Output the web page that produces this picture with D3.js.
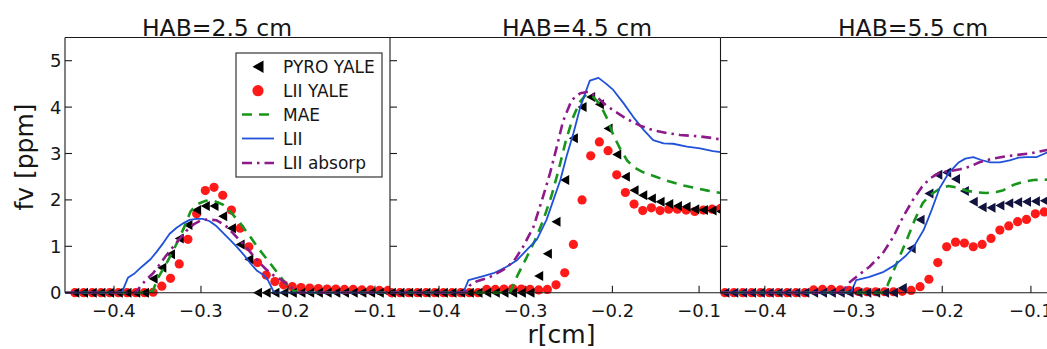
<!DOCTYPE html>
<html>
<head>
<meta charset="utf-8">
<script src="https://cdn.jsdelivr.net/npm/d3@7"></script>
<style>
  body { margin: 0; background: #fff; }
  svg { display: block; }
  text { font-family: "DejaVu Sans", sans-serif; fill: #161616; }
</style>
</head>
<body>
<svg id="chart" width="1047" height="349"></svg>
<script>
// ---- Soot volume fraction profiles, fv [ppm] versus radius r [cm] ----

const panelTitles = ["HAB=2.5 cm", "HAB=4.5 cm", "HAB=5.5 cm"];
const xTicks = [-0.4, -0.3, -0.2, -0.1];
const yTicks = [0, 1, 2, 3, 4, 5];
const seriesNames = ["PYRO YALE", "LII YALE", "MAE", "LII", "LII absorp"];

// HAB = 2.5 cm
const pyro25 = [[-0.445,0],[-0.435,0],[-0.425,0],[-0.415,0],[-0.405,0],[-0.395,0],[-0.385,0],[-0.375,0],[-0.365,0],
  [-0.355,0.30],[-0.345,0.54],[-0.335,0.83],[-0.325,1.17],[-0.315,1.46],[-0.305,1.78],[-0.295,1.87],[-0.285,1.87],
  [-0.275,1.65],[-0.265,1.39],[-0.255,1.04],[-0.245,0.72],[-0.235,0],[-0.225,0],[-0.215,0],[-0.205,0],[-0.195,0],
  [-0.185,0],[-0.175,0],[-0.165,0],[-0.155,0],[-0.145,0],[-0.135,0],[-0.125,0],[-0.115,0],[-0.105,0],[-0.095,0],[-0.085,0]];
const liiYale25 = [[-0.445,0],[-0.435,0],[-0.425,0],[-0.415,0],[-0.405,0],[-0.395,0],[-0.385,0],[-0.375,0],[-0.365,0],
  [-0.355,0.01],[-0.345,0.14],[-0.335,0.31],[-0.325,0.62],[-0.315,1.15],[-0.305,1.70],[-0.295,2.20],[-0.285,2.27],
  [-0.275,2.10],[-0.265,1.78],[-0.255,1.39],[-0.245,0.99],[-0.235,0.65],[-0.225,0.38],[-0.215,0.24],[-0.205,0.17],
  [-0.195,0.13],[-0.185,0.11],[-0.175,0.10],[-0.165,0.09],[-0.155,0.08],[-0.145,0.08],[-0.135,0.07],[-0.125,0.07],
  [-0.115,0.06],[-0.105,0.06],[-0.095,0.05],[-0.085,0.05]];
const mae25 = [[-0.456,0],[-0.36,0],[-0.355,0.05],[-0.35,0.3],[-0.34,0.62],[-0.33,0.98],[-0.32,1.38],[-0.312,1.75],
  [-0.305,1.9],[-0.295,1.98],[-0.285,1.98],[-0.275,1.9],[-0.265,1.72],[-0.255,1.5],[-0.245,1.25],[-0.235,0.98],
  [-0.225,0.74],[-0.215,0.5],[-0.206,0.28],[-0.199,0.1],[-0.192,0.03],[-0.185,0],[-0.08,0]];
const lii25 = [[-0.456,0],[-0.391,0],[-0.384,0.32],[-0.376,0.42],[-0.368,0.56],[-0.358,0.72],[-0.351,0.88],
  [-0.343,1.08],[-0.336,1.27],[-0.328,1.4],[-0.32,1.5],[-0.313,1.57],[-0.305,1.59],[-0.298,1.59],[-0.29,1.54],
  [-0.282,1.43],[-0.274,1.28],[-0.266,1.13],[-0.258,0.97],[-0.25,0.8],[-0.243,0.63],[-0.236,0.48],[-0.228,0.38],
  [-0.223,0.27],[-0.218,0.08],[-0.216,0],[-0.08,0]];
const liiAbs25 = [[-0.456,0],[-0.375,0],[-0.37,0.13],[-0.363,0.28],[-0.355,0.42],[-0.347,0.62],[-0.34,0.8],
  [-0.332,0.99],[-0.324,1.17],[-0.317,1.33],[-0.308,1.48],[-0.3,1.56],[-0.292,1.58],[-0.282,1.56],[-0.272,1.45],
  [-0.263,1.28],[-0.255,1.12],[-0.247,0.96],[-0.24,0.8],[-0.232,0.63],[-0.225,0.5],[-0.217,0.38],[-0.207,0.27],
  [-0.2,0.17],[-0.194,0.08],[-0.188,0],[-0.08,0]];

// HAB = 4.5 cm
const pyro45 = [[-0.455,0],[-0.445,0],[-0.435,0],[-0.425,0],[-0.415,0],[-0.405,0],[-0.395,0],[-0.385,0],[-0.375,0],
  [-0.365,0],[-0.355,0],[-0.345,0],[-0.335,0],[-0.325,0],[-0.315,0],[-0.305,0],[-0.295,0],
  [-0.285,0.36],[-0.275,0.84],[-0.265,1.53],[-0.255,2.43],[-0.245,3.33],[-0.235,4.0],[-0.225,4.22],[-0.215,4.06],
  [-0.205,3.54],[-0.195,2.98],[-0.185,2.5],[-0.175,2.21],[-0.165,2.1],[-0.155,2.03],[-0.145,1.96],[-0.135,1.91],
  [-0.125,1.87],[-0.115,1.85],[-0.105,1.8],[-0.095,1.78],[-0.085,1.77],[-0.075,1.75]];
const liiYale45 = [[-0.455,0],[-0.445,0],[-0.435,0],[-0.425,0],[-0.415,0],[-0.405,0],[-0.395,0],[-0.385,0],[-0.375,0],
  [-0.365,0],[-0.355,0],[-0.345,0.07],[-0.335,0.07],[-0.325,0.08],[-0.315,0.09],[-0.305,0.08],[-0.295,0.07],
  [-0.285,0.06],[-0.275,0.07],[-0.265,0.17],[-0.255,0.43],[-0.245,1.04],[-0.235,2.0],[-0.225,2.95],[-0.215,3.25],
  [-0.205,3.06],[-0.195,2.54],[-0.185,2.16],[-0.175,1.91],[-0.165,1.77],[-0.155,1.83],[-0.145,1.77],[-0.135,1.8],
  [-0.125,1.8],[-0.115,1.78],[-0.105,1.75],[-0.095,1.78],[-0.085,1.8],[-0.075,1.82]];
const mae45 = [[-0.456,0],[-0.318,0],[-0.31,0.35],[-0.3,0.72],[-0.29,1.1],[-0.28,1.55],[-0.27,2.1],[-0.262,2.65],
  [-0.254,3.25],[-0.246,3.75],[-0.238,4.1],[-0.23,4.28],[-0.222,4.22],[-0.214,4.05],[-0.206,3.75],[-0.199,3.4],
  [-0.191,3.1],[-0.183,2.85],[-0.175,2.7],[-0.165,2.6],[-0.15,2.5],[-0.135,2.4],[-0.12,2.32],[-0.105,2.26],
  [-0.09,2.2],[-0.075,2.15]];
const lii45 = [[-0.456,0],[-0.372,0],[-0.366,0.27],[-0.352,0.34],[-0.337,0.42],[-0.322,0.56],[-0.31,0.7],
  [-0.299,0.92],[-0.287,1.15],[-0.276,1.57],[-0.268,2.0],[-0.26,2.43],[-0.253,2.93],[-0.245,3.43],[-0.237,4.0],
  [-0.23,4.37],[-0.226,4.57],[-0.216,4.63],[-0.207,4.5],[-0.199,4.37],[-0.187,4.08],[-0.176,3.79],[-0.164,3.51],
  [-0.153,3.29],[-0.141,3.22],[-0.13,3.21],[-0.114,3.15],[-0.099,3.11],[-0.084,3.05],[-0.075,3.03]];
const liiAbs45 = [[-0.456,0],[-0.37,0],[-0.365,0.15],[-0.357,0.24],[-0.341,0.34],[-0.326,0.49],[-0.314,0.67],
  [-0.303,0.99],[-0.291,1.42],[-0.28,2.07],[-0.272,2.57],[-0.264,3.15],[-0.257,3.69],[-0.247,4.15],[-0.237,4.3],
  [-0.228,4.33],[-0.218,4.22],[-0.208,4.05],[-0.199,3.93],[-0.184,3.75],[-0.168,3.6],[-0.153,3.5],[-0.137,3.44],
  [-0.122,3.4],[-0.1,3.37],[-0.083,3.33],[-0.075,3.3]];

// HAB = 5.5 cm
const pyro55 = [[-0.445,0],[-0.435,0],[-0.425,0],[-0.415,0],[-0.405,0],[-0.395,0],[-0.385,0],[-0.375,0],[-0.365,0],
  [-0.355,0],[-0.345,0],[-0.335,0],[-0.325,0],[-0.315,0],[-0.305,0],[-0.295,0],[-0.285,0],[-0.275,0],[-0.265,0],
  [-0.255,0],[-0.245,0.1],[-0.235,0.95],[-0.225,1.57],[-0.215,2.14],[-0.205,2.54],[-0.195,2.59],[-0.185,2.45],
  [-0.175,2.19],[-0.165,1.96],[-0.155,1.84],[-0.145,1.83],[-0.135,1.88],[-0.125,1.93],[-0.115,1.95],[-0.105,1.96],
  [-0.095,1.97],[-0.085,1.98],[-0.075,1.98]];
const liiYale55 = [[-0.445,0],[-0.435,0],[-0.425,0],[-0.415,0],[-0.405,0],[-0.395,0],[-0.385,0],[-0.375,0],[-0.365,0],
  [-0.355,0],[-0.345,0.06],[-0.335,0.07],[-0.325,0.07],[-0.315,0.06],[-0.305,0.05],[-0.295,0.03],[-0.285,0.02],
  [-0.275,0.02],[-0.265,0.02],[-0.255,0.02],[-0.245,0.03],[-0.235,0.05],[-0.225,0.13],[-0.215,0.29],[-0.205,0.65],
  [-0.195,0.99],[-0.185,1.09],[-0.175,1.07],[-0.165,0.99],[-0.155,1.04],[-0.145,1.17],[-0.135,1.35],[-0.125,1.44],
  [-0.115,1.53],[-0.105,1.58],[-0.095,1.7],[-0.085,1.74],[-0.075,1.78]];
const mae55 = [[-0.45,0],[-0.268,0],[-0.262,0.15],[-0.256,0.42],[-0.248,0.78],[-0.24,1.14],[-0.231,1.57],
  [-0.222,1.93],[-0.214,2.1],[-0.203,2.24],[-0.193,2.3],[-0.184,2.27],[-0.173,2.2],[-0.161,2.16],[-0.15,2.15],
  [-0.139,2.17],[-0.131,2.21],[-0.12,2.32],[-0.109,2.39],[-0.097,2.43],[-0.075,2.44]];
const lii55 = [[-0.45,0],[-0.303,0],[-0.297,0.27],[-0.282,0.34],[-0.266,0.45],[-0.253,0.6],[-0.242,0.78],
  [-0.233,0.96],[-0.221,1.35],[-0.212,1.78],[-0.203,2.25],[-0.193,2.57],[-0.182,2.8],[-0.174,2.89],[-0.165,2.92],
  [-0.156,2.86],[-0.146,2.81],[-0.135,2.81],[-0.124,2.85],[-0.114,2.91],[-0.105,2.92],[-0.094,2.92],[-0.082,3.02],
  [-0.075,3.05]];
const liiAbs55 = [[-0.45,0],[-0.311,0],[-0.308,0.17],[-0.297,0.34],[-0.282,0.56],[-0.267,0.85],[-0.255,1.21],
  [-0.244,1.64],[-0.233,2.0],[-0.223,2.28],[-0.214,2.46],[-0.203,2.59],[-0.191,2.62],[-0.18,2.66],[-0.169,2.72],
  [-0.158,2.81],[-0.143,2.89],[-0.131,2.93],[-0.116,2.97],[-0.101,3.0],[-0.086,3.06],[-0.075,3.1]];

// ---- layout and styling ----
const panelData = [
  { pyro: pyro25, liiYale: liiYale25, mae: mae25, lii: lii25, liiAbs: liiAbs25 },
  { pyro: pyro45, liiYale: liiYale45, mae: mae45, lii: lii45, liiAbs: liiAbs45 },
  { pyro: pyro55, liiYale: liiYale55, mae: mae55, lii: lii55, liiAbs: liiAbs55 }
];
const layout = [
  { x0: 65,    x1: 390,  d0: -0.4563, d1: -0.0827, titleX: 217, pyroColor: "#000" },
  { x0: 390,   x1: 720.5, d0: -0.4565, d1: -0.0753, titleX: 577, pyroColor: "#000" },
  { x0: 720.5, x1: 1053, d0: -0.45,   d1: -0.0751, titleX: 913, pyroColor: "#12123f" }
];
const plotTop = 37.5, plotBottom = 292.7;
const colors = { red: "#ff1a1a", green: "#18961c", blue: "#1f52d9", purple: "#8c1a8a" };
const lineStyles = {
  mae:    { color: colors.green,  width: 2.6, dash: "10,7" },
  lii:    { color: colors.blue,   width: 1.8, dash: null },
  liiAbs: { color: colors.purple, width: 2.6, dash: "10,5,2.5,5" }
};
const triPath = "M-4.5,0L4.5,-5L4.5,5Z";

const svg = d3.select("#chart");
const y = d3.scaleLinear().domain([0, 5.5]).range([plotBottom, plotTop]);
const defs = svg.append("defs");

layout.forEach((L, i) => {
  const data = panelData[i];
  const x = d3.scaleLinear().domain([L.d0, L.d1]).range([L.x0, L.x1]);
  const g = svg.append("g");

  // panel background hides anything the previous panel drew past its edge
  g.append("rect").attr("x", L.x0).attr("y", plotTop)
    .attr("width", L.x1 - L.x0).attr("height", plotBottom - plotTop).attr("fill", "#fff");

  defs.append("clipPath").attr("id", "clip" + i)
    .append("rect").attr("x", L.x0).attr("y", plotTop - 1)
    .attr("width", L.x1 - L.x0).attr("height", plotBottom - plotTop + 2);

  const inside = d => d[0] >= L.d0 - 0.001 && d[0] <= L.d1 + 0.001;

  // LII YALE circles
  g.append("g").selectAll("circle").data(data.liiYale.filter(inside)).join("circle")
    .attr("cx", d => x(d[0])).attr("cy", d => y(d[1])).attr("r", 4.6)
    .attr("fill", colors.red);

  // PYRO YALE triangles
  g.append("g").selectAll("path").data(data.pyro.filter(inside)).join("path")
    .attr("d", triPath)
    .attr("transform", d => `translate(${x(d[0])},${y(d[1])})`)
    .attr("fill", L.pyroColor);

  // model / diagnostic curves
  const line = d3.line().x(d => x(d[0])).y(d => y(d[1]));
  const lines = g.append("g").attr("clip-path", `url(#clip${i})`);
  ["mae", "lii", "liiAbs"].forEach(key => {
    const s = lineStyles[key];
    lines.append("path").datum(data[key]).attr("d", line)
      .attr("fill", "none").attr("stroke", s.color).attr("stroke-width", s.width)
      .attr("stroke-dasharray", s.dash).attr("stroke-linejoin", "round");
  });

  // frame
  const frame = g.append("g").attr("stroke", "#1a1a1a").attr("stroke-width", 1.1).attr("fill", "none");
  frame.append("line").attr("x1", L.x0).attr("x2", L.x1).attr("y1", plotBottom).attr("y2", plotBottom);
  frame.append("line").attr("x1", L.x0).attr("x2", L.x1).attr("y1", plotTop).attr("y2", plotTop);
  frame.append("line").attr("x1", L.x0).attr("x2", L.x0).attr("y1", plotTop).attr("y2", plotBottom);

  // ticks
  yTicks.forEach(t => {
    frame.append("line").attr("x1", L.x0).attr("x2", L.x0 + 7).attr("y1", y(t)).attr("y2", y(t));
  });
  xTicks.forEach(t => {
    frame.append("line").attr("x1", x(t)).attr("x2", x(t)).attr("y1", plotBottom).attr("y2", plotBottom - 7);
    g.append("text").attr("x", x(t)).attr("y", 317).attr("text-anchor", "middle")
      .attr("font-size", 18).text(d3.format(".1f")(t).replace("-", "-"));
  });
  if (i === 0) {
    yTicks.forEach(t => {
      g.append("text").attr("x", 61.5).attr("y", y(t)).attr("dy", "0.36em")
        .attr("text-anchor", "end").attr("font-size", 18).text(t);
    });
  }

  g.append("text").attr("x", L.titleX).attr("y", 35.5).attr("text-anchor", "middle")
    .attr("font-size", 23.5).text(panelTitles[i]);
});

// axis labels
svg.append("text").attr("x", 561.5).attr("y", 343).attr("text-anchor", "middle")
  .attr("font-size", 25).text("r[cm]");
svg.append("text").attr("transform", "translate(33,157) rotate(-90)")
  .attr("text-anchor", "middle").attr("font-size", 25).text("fv [ppm]");

// legend
const leg = svg.append("g");
leg.append("rect").attr("x", 236).attr("y", 53).attr("width", 146).attr("height", 124)
  .attr("fill", "#fff").attr("stroke", "#222").attr("stroke-width", 1.1);
const rowY = [66.7, 90.7, 114.5, 138.5, 163];
leg.append("path").attr("d", "M-5.5,0L5.5,-6.2L5.5,6.2Z")
  .attr("transform", `translate(258,${rowY[0]})`).attr("fill", "#000");
leg.append("circle").attr("cx", 258).attr("cy", rowY[1]).attr("r", 5.6).attr("fill", colors.red);
["mae", "lii", "liiAbs"].forEach((key, k) => {
  const s = lineStyles[key];
  leg.append("line").attr("x1", 242).attr("x2", 274)
    .attr("y1", rowY[k + 2]).attr("y2", rowY[k + 2])
    .attr("stroke", s.color).attr("stroke-width", s.width).attr("stroke-dasharray", s.dash);
});
seriesNames.forEach((name, k) => {
  leg.append("text").attr("x", 283).attr("y", rowY[k]).attr("dy", "0.36em")
    .attr("font-size", 17).text(name);
});
</script>
</body>
</html>
